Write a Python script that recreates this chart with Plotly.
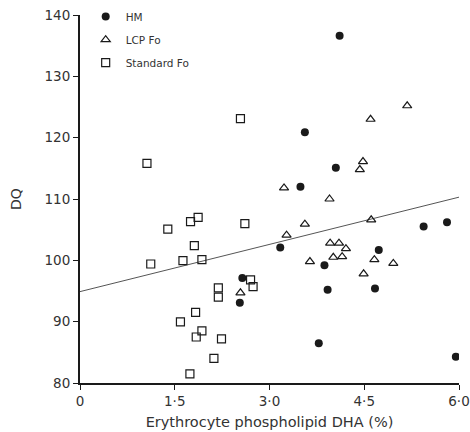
import plotly.graph_objects as go

# HM (filled circles)
hm_x = [4.11, 3.56, 4.05, 3.49, 3.17, 2.57, 2.53, 3.87, 3.92, 3.78, 4.73, 4.67, 5.44, 5.81, 5.95]
hm_y = [136.6, 120.9, 115.1, 112.0, 102.1, 97.1, 93.1, 99.2, 95.2, 86.5, 101.7, 95.4, 105.5, 106.2, 84.3]

# LCP Fo (open triangles)
lcp_x = [5.18, 4.60, 4.48, 4.43, 3.23, 3.95, 3.56, 3.27, 4.61, 3.96, 4.10, 4.21, 4.01, 4.15, 3.64, 4.66, 4.96, 4.49, 2.54]
lcp_y = [125.2, 123.0, 116.1, 114.8, 111.8, 110.0, 105.9, 104.1, 106.6, 102.8, 102.8, 101.9, 100.5, 100.6, 99.8, 100.1, 99.5, 97.8, 94.7]

# Standard Fo (open squares)
std_x = [1.06, 2.54, 1.87, 1.75, 1.39, 1.81, 1.12, 1.63, 1.93, 2.19, 2.19, 1.83, 1.59, 1.93, 1.84, 2.24, 2.12, 1.74, 2.61, 2.70, 2.74]
std_y = [115.8, 123.1, 107.0, 106.3, 105.1, 102.4, 99.4, 99.95, 100.1, 95.5, 94.0, 91.5, 89.95, 88.5, 87.5, 87.2, 84.0, 81.5, 106.0, 96.8, 95.7]

# Regression line
line_x = [0.0, 6.0]
line_y = [94.9, 110.3]

x_ticks = [0, 1.5, 3.0, 4.5, 6.0]
x_ticktext = ["0", "1·5", "3·0", "4·5", "6·0"]
y_ticks = [80, 90, 100, 110, 120, 130, 140]

ink = "#1a1a1a"
fnt = "DejaVu Sans"
fig = go.Figure()
fig.add_trace(go.Scatter(x=line_x, y=line_y, mode="lines", line=dict(color="#555", width=1),
                         showlegend=False, hoverinfo="skip"))
fig.add_trace(go.Scatter(x=hm_x, y=hm_y, mode="markers", name="HM", legendgroup="a",
                         marker=dict(symbol="circle", size=8, color=ink)))
fig.add_trace(go.Scatter(x=lcp_x, y=lcp_y, mode="markers", name="LCP Fo", legendgroup="b",
                         marker=dict(symbol="triangle-up-open", size=8, color=ink, line=dict(width=1.2))))
fig.add_trace(go.Scatter(x=std_x, y=std_y, mode="markers", name="Standard Fo", legendgroup="c",
                         marker=dict(symbol="square-open", size=8, color=ink, line=dict(width=1.2))))

axis_common = dict(showgrid=False, zeroline=False, showline=True, linecolor=ink, linewidth=2,
                   ticks="outside", ticklen=5, tickwidth=1.2, tickcolor=ink, automargin=False,
                   tickfont=dict(family=fnt, size=13.5, color="#333"))
fig.update_layout(
    width=470, height=432,
    margin=dict(l=80, r=11, t=15, b=49, autoexpand=False),
    paper_bgcolor="white", plot_bgcolor="white",
    font=dict(family=fnt, color="#333"),
    xaxis=dict(range=[0, 6.0], tickvals=x_ticks, ticktext=x_ticktext,
               title=dict(text="Erythrocyte phospholipid DHA (%)", font=dict(size=14.5), standoff=9),
               **axis_common),
    yaxis=dict(range=[80, 140], tickvals=y_ticks,
               title=dict(text="DQ", font=dict(size=14), standoff=20),
               **axis_common),
    legend=dict(x=0.015, y=1.035, xanchor="left", yanchor="top", bgcolor="rgba(0,0,0,0)",
                font=dict(size=10.5, color="#333"), traceorder="grouped", tracegroupgap=4,
                itemwidth=30),
)
fig.write_html("out.html")
